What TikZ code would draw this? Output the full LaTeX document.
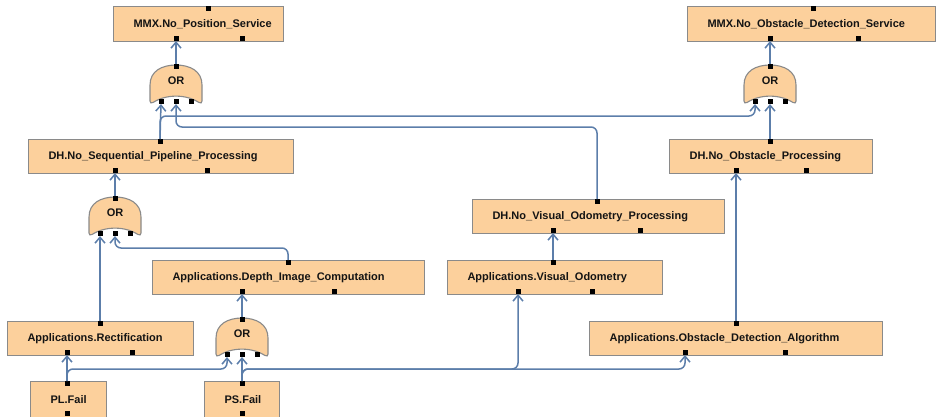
\documentclass[tikz,border=0pt]{standalone}
\usepackage{fontspec}
\setmainfont{Liberation Sans}
\usetikzlibrary{arrows.meta}

\definecolor{boxfill}{RGB}{252,208,156}
\definecolor{boxedge}{RGB}{138,138,138}
\definecolor{linec}{RGB}{92,126,170}
\definecolor{textc}{RGB}{20,20,20}

\tikzset{
  evbox/.style={draw=boxedge, line width=1.1pt, fill=boxfill, anchor=north west,
    inner xsep=20pt, inner ysep=0pt, minimum height=34pt, align=left,
    font=\bfseries\fontsize{11}{13}\selectfont, text=textc},
  port/.style={fill=black, draw=none, minimum size=5pt, inner sep=0pt, outer sep=0pt},
  gatebody/.style={draw=boxedge, line width=1.1pt, fill=boxfill},
  gatelabel/.style={font=\bfseries\fontsize{11}{13}\selectfont, text=textc, inner sep=0pt},
  conn/.style={draw=linec, line width=1.5pt, rounded corners=6pt,
    -{Straight Barb[length=6pt,width=10pt]}},
  % OR gate: dome on top, concave base, one output and three inputs
  orgate/.pic={
    \path[gatebody] (-26,36) -- (-26,20)
      .. controls (-26,6) and (-14,0) .. (0,0)
      .. controls (14,0) and (26,6) .. (26,20) -- (26,36)
      .. controls (26,38) and (25,38.5) .. (23,37.5)
      .. controls (10,29) and (-10,29) .. (-23,37.5)
      .. controls (-25,38.5) and (-26,38) .. cycle;
    \node[gatelabel] (-label) at (0,16) {OR};
    \node[port] (-top) at (0,1.5) {};
    \node[port, anchor=north] (-in1) at (-15,34) {};
    \node[port, anchor=north] (-in2) at (0,34) {};
    \node[port, anchor=north] (-in3) at (15,34) {};
  }
}

\begin{document}
\begin{tikzpicture}[x=1pt,y=-1pt]
\useasboundingbox (0,0) rectangle (936,416);

% ---- event boxes (text width = box width - 40) ----
\node[evbox, minimum height=35pt, text width=130pt] (mmxpos) at (113,6) {MMX.No\_Position\_Service};
\node[port, anchor=north] (mmxpos-t)  at (208,6) {};
\node[port, anchor=south] (mmxpos-b1) at (176,41) {};
\node[port, anchor=south] (mmxpos-b2) at (242,41) {};

\node[evbox, minimum height=35pt, text width=208pt] (mmxobs) at (687,6) {MMX.No\_Obstacle\_Detection\_Service};
\node[port, anchor=north] (mmxobs-t)  at (813,6) {};
\node[port, anchor=south] (mmxobs-b1) at (770,41) {};
\node[port, anchor=south] (mmxobs-b2) at (858,41) {};

\node[evbox, text width=225pt] (dhseq) at (28,139) {DH.No\_Sequential\_Pipeline\_Processing};
\node[port, anchor=north] (dhseq-t)  at (160,139) {};
\node[port, anchor=south] (dhseq-b1) at (115,173) {};
\node[port, anchor=south] (dhseq-b2) at (207,173) {};

\node[evbox, text width=163pt] (dhobs) at (669,139) {DH.No\_Obstacle\_Processing};
\node[port, anchor=north] (dhobs-t)  at (770,139) {};
\node[port, anchor=south] (dhobs-b1) at (736,173) {};
\node[port, anchor=south] (dhobs-b2) at (806,173) {};

\node[evbox, text width=212pt] (dhvo) at (472,199) {DH.No\_Visual\_Odometry\_Processing};
\node[port, anchor=north] (dhvo-t)  at (597,199) {};
\node[port, anchor=south] (dhvo-b1) at (553,233) {};
\node[port, anchor=south] (dhvo-b2) at (640,233) {};

\node[evbox, text width=232pt] (appdepth) at (152,260) {Applications.Depth\_Image\_Computation};
\node[port, anchor=north] (appdepth-t)  at (288,260) {};
\node[port, anchor=south] (appdepth-b1) at (242,294) {};
\node[port, anchor=south] (appdepth-b2) at (334,294) {};

\node[evbox, text width=175pt] (appvo) at (447,260) {Applications.Visual\_Odometry};
\node[port, anchor=north] (appvo-t)  at (553,260) {};
\node[port, anchor=south] (appvo-b1) at (518,294) {};
\node[port, anchor=south] (appvo-b2) at (592,294) {};

\node[evbox, text width=146pt] (apprect) at (7,321) {Applications.Rectification};
\node[port, anchor=north] (apprect-t)  at (100,321) {};
\node[port, anchor=south] (apprect-b1) at (67,355) {};
\node[port, anchor=south] (apprect-b2) at (132,355) {};

\node[evbox, text width=253pt] (appobs) at (589,321) {Applications.Obstacle\_Detection\_Algorithm};
\node[port, anchor=north] (appobs-t)  at (736,321) {};
\node[port, anchor=south] (appobs-b1) at (685,355) {};
\node[port, anchor=south] (appobs-b2) at (785,355) {};

% failure boxes run past the lower page edge
\node[evbox, minimum height=37pt, text width=36pt] (plfail) at (30,381) {\raisebox{1pt}{PL.Fail}};
\node[port, anchor=north] (plfail-t) at (67,381) {};
\node[port, anchor=south] (plfail-b) at (67,416) {};

\node[evbox, minimum height=37pt, text width=35pt] (psfail) at (204,381) {\raisebox{1pt}{PS.Fail}};
\node[port, anchor=north] (psfail-t) at (242,381) {};
\node[port, anchor=south] (psfail-b) at (242,416) {};

% ---- OR gates ----
\pic (or1) at (176,65) {orgate};
\pic (or2) at (770,65) {orgate};
\pic (or3) at (115,197) {orgate};
\pic (or4) at (242,318) {orgate};

% ---- routing levels for bent connectors ----
\coordinate (lvA) at (0,116);
\coordinate (lvB) at (0,127);
\coordinate (lvC) at (0,248);
\coordinate (lvD) at (0,369);

% ---- connectors ----
\draw[conn] (or1-top.north) -- (mmxpos-b1.south);
\draw[conn] (or2-top.north) -- (mmxobs-b1.south);
\draw[conn] (dhseq-t.north) -- (or1-in1.south);
\draw[conn] (dhseq-t.north) -- (dhseq-t |- lvA) -- (or2-in1 |- lvA) -- (or2-in1.south);
\draw[conn] (dhvo-t.north) -- (dhvo-t |- lvB) -- (or1-in2 |- lvB) -- (or1-in2.south);
\draw[conn] (dhobs-t.north) -- (or2-in2.south);
\draw[conn] (or3-top.north) -- (dhseq-b1.south);
\draw[conn] (apprect-t.north) -- (or3-in1.south);
\draw[conn] (appdepth-t.north) -- (appdepth-t |- lvC) -- (or3-in2 |- lvC) -- (or3-in2.south);
\draw[conn] (or4-top.north) -- (appdepth-b1.south);
\draw[conn] (appvo-t.north) -- (dhvo-b1.south);
\draw[conn] (appobs-t.north) -- (dhobs-b1.south);
\draw[conn] (plfail-t.north) -- (apprect-b1.south);
\draw[conn] (plfail-t.north) -- (plfail-t |- lvD) -- (or4-in1 |- lvD) -- (or4-in1.south);
\draw[conn] (psfail-t.north) -- (or4-in2.south);
\draw[conn] (psfail-t.north) -- (psfail-t |- lvD) -- (appvo-b1 |- lvD) -- (appvo-b1.south);
\draw[conn] (psfail-t.north) -- (psfail-t |- lvD) -- (appobs-b1 |- lvD) -- (appobs-b1.south);
\end{tikzpicture}
\end{document}
